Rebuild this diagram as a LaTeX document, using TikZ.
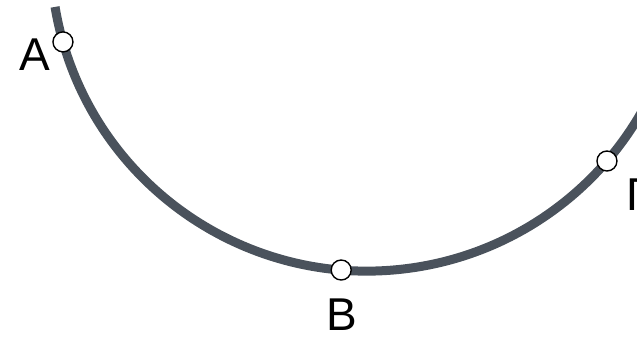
\documentclass[tikz,border=0pt]{standalone}
\usepackage{fontspec}
\setmainfont{Liberation Sans}
\definecolor{arcgray}{RGB}{74,82,92}
\tikzset{
  pt/.style={circle,draw=black,fill=white,line width=1.4pt,minimum size=20pt,inner sep=0pt},
  lbl/.style={font=\fontsize{46}{46}\selectfont,inner sep=0pt},
  arcline/.style={draw=arcgray,line width=9pt}
}
\begin{document}
\begin{tikzpicture}[x=1pt,y=1pt]
\useasboundingbox (0,0) rectangle (637,339);
\clip (0,0) rectangle (637,339);
\coordinate (O) at (367.1,384.3);
\draw[arcline] ([shift={(189.5:316.4)}]O) arc[start angle=189.5,end angle=335,radius=316.4];
\node[pt] (A) at ([shift={(196.0:316.4)}]O) {};
\node[pt] (B) at ([shift={(265.3:316.4)}]O) {};
\node[pt] (G) at ([shift={(319.3:316.4)}]O) {};
\node[lbl] (lA) at (35,284) {Α};
\node[lbl] (lB) at (341.5,24) {Β};
\node[lbl,anchor=west] (lG) at (626,144) {Γ};
\end{tikzpicture}
\end{document}
